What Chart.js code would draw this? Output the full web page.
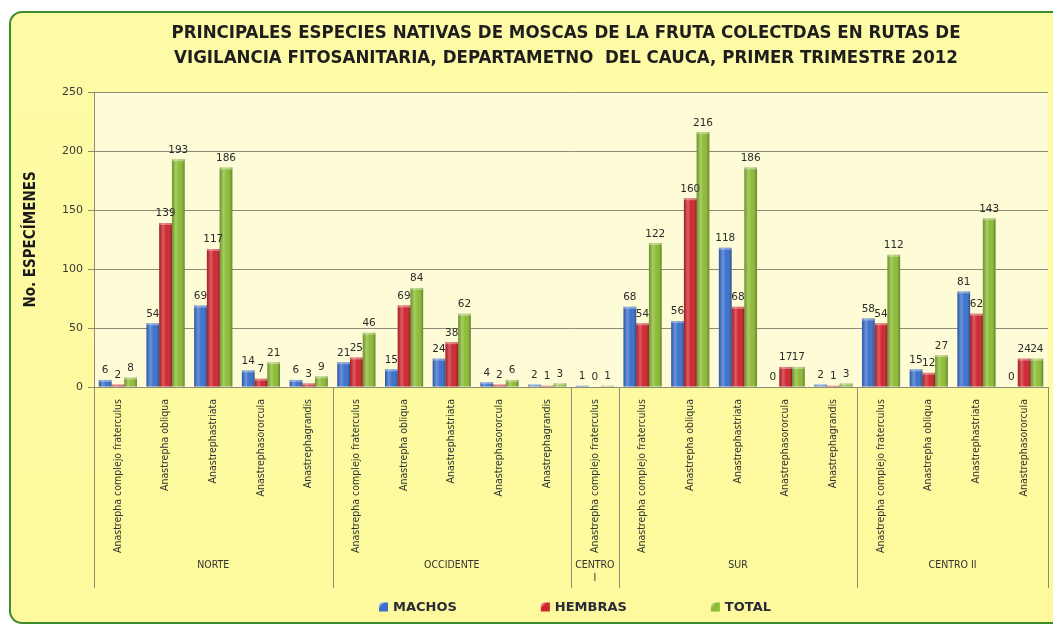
<!DOCTYPE html>
<html lang="es">
<head>
<meta charset="UTF-8" />
<title>Moscas de la fruta - Cauca 2012</title>
<script src="https://cdn.jsdelivr.net/npm/chart.js@4"></script>
<style>
    body {
        margin: 0;
        background: #ffffff;
        overflow: hidden;
    }
    .frame {
        position: absolute;
        left: 9px;
        top: 11px;
        width: 1100px;
        height: 609px;
        border: 2px solid #3d8b2c;
        border-radius: 13px;
        background: linear-gradient(to bottom, #fdfba6, #fdf99c);
    }
    .wrap {
        position: absolute;
        left: 0;
        top: 0;
        width: 1053px;
        height: 625px;
    }
</style>
</head>
<body>
<div class="frame"></div>
<div class="wrap">
    <canvas id="chart" width="1053" height="625"></canvas>
</div>
<script>
    // datos
    const especies = [
        'Anastrepha complejo fraterculus', 'Anastrepha obliqua', 'Anastrephastriata', 'Anastrephasororcula', 'Anastrephagrandis',
        'Anastrepha complejo fraterculus', 'Anastrepha obliqua', 'Anastrephastriata', 'Anastrephasororcula', 'Anastrephagrandis',
        'Anastrepha complejo fraterculus',
        'Anastrepha complejo fraterculus', 'Anastrepha obliqua', 'Anastrephastriata', 'Anastrephasororcula', 'Anastrephagrandis',
        'Anastrepha complejo fraterculus', 'Anastrepha obliqua', 'Anastrephastriata', 'Anastrephasororcula'
    ];
    const zonas = ['NORTE', 'OCCIDENTE', 'CENTRO I', 'SUR', 'CENTRO II'];
    const especiesPorZona = [5, 5, 1, 5, 4];

    const machos  = [6, 54, 69, 14, 6,  21, 15, 24, 4, 2,  1,  68, 56, 118, 0, 2,   58, 15, 81, 0];
    const hembras = [2, 139, 117, 7, 3, 25, 69, 38, 2, 1,  0,  54, 160, 68, 17, 1,  54, 12, 62, 24];
    const total   = [8, 193, 186, 21, 9, 46, 84, 62, 6, 3, 1,  122, 216, 186, 17, 3, 112, 27, 143, 24];

    const yTicks = [0, 50, 100, 150, 200, 250];

    const tituloLineas = [
        'PRINCIPALES ESPECIES NATIVAS DE MOSCAS DE LA FRUTA COLECTDAS EN RUTAS DE',
        'VIGILANCIA FITOSANITARIA, DEPARTAMETNO  DEL CAUCA, PRIMER TRIMESTRE 2012'
    ];

    const NARROW = "'Liberation Sans Narrow', 'DejaVu Sans Condensed', sans-serif";
    const gridColor = '#8e8c78';

    // fondo del area de trazado
    const plotBg = {
        id: 'plotBg',
        beforeDraw(chart) {
            const { ctx, chartArea: a } = chart;
            ctx.save();
            ctx.fillStyle = '#fefcd6';
            ctx.fillRect(a.left, a.top, a.right - a.left, a.bottom - a.top);
            ctx.restore();
        }
    };

    // titulo en dos lineas
    const titulo = {
        id: 'titulo',
        afterDraw(chart) {
            const ctx = chart.ctx;
            ctx.save();
            ctx.fillStyle = '#1e1e1e';
            ctx.textAlign = 'center';
            ctx.textBaseline = 'middle';
            ctx.font = "bold 16px " + NARROW;
            const w = ctx.measureText(tituloLineas[0]).width;
            const size = 16 * 788 / w;
            ctx.font = "bold " + size.toFixed(1) + "px " + NARROW;
            ctx.fillText(tituloLineas[0], 566, 33);
            ctx.fillText(tituloLineas[1], 566, 58);
            ctx.restore();
        }
    };

    // sombreado tipo cilindro y etiquetas de valor
    const barras = {
        id: 'barras',
        afterDatasetsDraw(chart) {
            const ctx = chart.ctx;
            ctx.save();
            chart.data.datasets.forEach((ds, i) => {
                const meta = chart.getDatasetMeta(i);
                meta.data.forEach((bar, j) => {
                    const left = bar.x - bar.width / 2;
                    const h = bar.base - bar.y;
                    if (h > 0.5) {
                        const g = ctx.createLinearGradient(left, 0, left + bar.width, 0);
                        g.addColorStop(0, 'rgba(0,0,0,0.2)');
                        g.addColorStop(0.3, 'rgba(255,255,255,0.25)');
                        g.addColorStop(0.6, 'rgba(255,255,255,0)');
                        g.addColorStop(1, 'rgba(0,0,0,0.32)');
                        ctx.fillStyle = g;
                        ctx.fillRect(left, bar.y, bar.width, h);
                        ctx.fillStyle = 'rgba(255,255,255,0.35)';
                        ctx.fillRect(left, bar.y, bar.width, Math.min(2, h));
                    }
                    ctx.fillStyle = '#2b2b2b';
                    ctx.font = "10.5px 'DejaVu Sans', sans-serif";
                    ctx.textAlign = 'center';
                    ctx.textBaseline = 'bottom';
                    ctx.fillText(String(ds.data[j]), bar.x, bar.y - 4);
                });
            });
            ctx.restore();
        }
    };

    // segundo nivel del eje X: zonas
    const zonasEje = {
        id: 'zonasEje',
        afterDraw(chart) {
            const { ctx } = chart;
            const x = chart.scales.x;
            const top = x.top;
            const bottom = 588;
            ctx.save();
            ctx.strokeStyle = gridColor;
            ctx.lineWidth = 1;
            ctx.fillStyle = '#333333';
            ctx.font = '10.5px ' + NARROW;
            ctx.textAlign = 'center';
            ctx.textBaseline = 'middle';
            let start = 0;
            const edges = [x.getPixelForValue(-0.5)];
            especiesPorZona.forEach((n, k) => {
                const x0 = x.getPixelForValue(start - 0.5);
                const x1 = x.getPixelForValue(start + n - 0.5);
                edges.push(x1);
                const cx = (x0 + x1) / 2;
                const txt = zonas[k];
                if (ctx.measureText(txt).width > x1 - x0 - 4) {
                    const parts = txt.split(' ');
                    ctx.fillText(parts[0], cx, 565);
                    ctx.fillText(parts.slice(1).join(' '), cx, 578);
                } else {
                    ctx.fillText(txt, cx, 565);
                }
                start += n;
            });
            edges.forEach(e => {
                const px = Math.round(e) + 0.5;
                ctx.beginPath();
                ctx.moveTo(px, top);
                ctx.lineTo(px, bottom);
                ctx.stroke();
            });
            ctx.restore();
        }
    };

    // leyenda inferior
    const leyenda = {
        id: 'leyenda',
        afterDraw(chart) {
            const ctx = chart.ctx;
            ctx.save();
            ctx.font = "bold 13px 'DejaVu Sans', sans-serif";
            ctx.textBaseline = 'middle';
            const items = chart.data.datasets.map(d => ({ text: d.label, color: d.backgroundColor, w: 14 + ctx.measureText(d.label).width }));
            const gap = 84;
            const totalW = items.reduce((s, it) => s + it.w, 0) + gap * (items.length - 1);
            let cx = 575 - totalW / 2;
            const cy = 607;
            items.forEach(it => {
                const g = ctx.createLinearGradient(cx, cy - 4.5, cx + 9, cy + 4.5);
                g.addColorStop(0, '#ffffff');
                g.addColorStop(0.35, it.color);
                g.addColorStop(1, it.color);
                ctx.fillStyle = g;
                ctx.fillRect(cx, cy - 4.5, 9, 9);
                ctx.fillStyle = '#2a2a3a';
                ctx.fillText(it.text, cx + 14, cy + 1);
                cx += it.w + gap;
            });
            ctx.restore();
        }
    };

    new Chart(document.getElementById('chart'), {
        type: 'bar',
        data: {
            labels: especies,
            datasets: [
                { label: 'MACHOS', data: machos, backgroundColor: '#3a70cc' },
                { label: 'HEMBRAS', data: hembras, backgroundColor: '#cf252d' },
                { label: 'TOTAL', data: total, backgroundColor: '#8cbb34' }
            ]
        },
        options: {
            responsive: false,
            animation: false,
            events: [],
            layout: {
                padding: { top: 92, left: 20, right: 5, bottom: 35 }
            },
            datasets: {
                bar: { categoryPercentage: 0.8, barPercentage: 1.0 }
            },
            plugins: {
                legend: { display: false },
                tooltip: { enabled: false }
            },
            scales: {
                x: {
                    afterFit(scale) { scale.height = 203; },
                    grid: { display: false },
                    border: { display: true, color: gridColor },
                    ticks: {
                        autoSkip: false,
                        maxRotation: 90,
                        minRotation: 90,
                        padding: 4,
                        color: '#333333',
                        font: { family: NARROW, size: 10.5 }
                    }
                },
                y: {
                    min: 0,
                    max: 250,
                    afterFit(scale) { scale.width = 74; },
                    afterBuildTicks(scale) { scale.ticks = yTicks.map(v => ({ value: v })); },
                    grid: { color: gridColor, tickLength: 6, lineWidth: 1 },
                    border: { display: true, color: gridColor },
                    ticks: {
                        padding: 5,
                        color: '#3a3a3a',
                        font: { family: "'DejaVu Sans', sans-serif", size: 11 }
                    },
                    title: {
                        display: true,
                        text: 'No. ESPECÍMENES',
                        color: '#1a1a1a',
                        padding: { top: 2, bottom: 0 },
                        font: { family: NARROW, size: 15, weight: 'bold' }
                    }
                }
            }
        },
        plugins: [plotBg, barras, zonasEje, titulo, leyenda]
    });
</script>
</body>
</html>
